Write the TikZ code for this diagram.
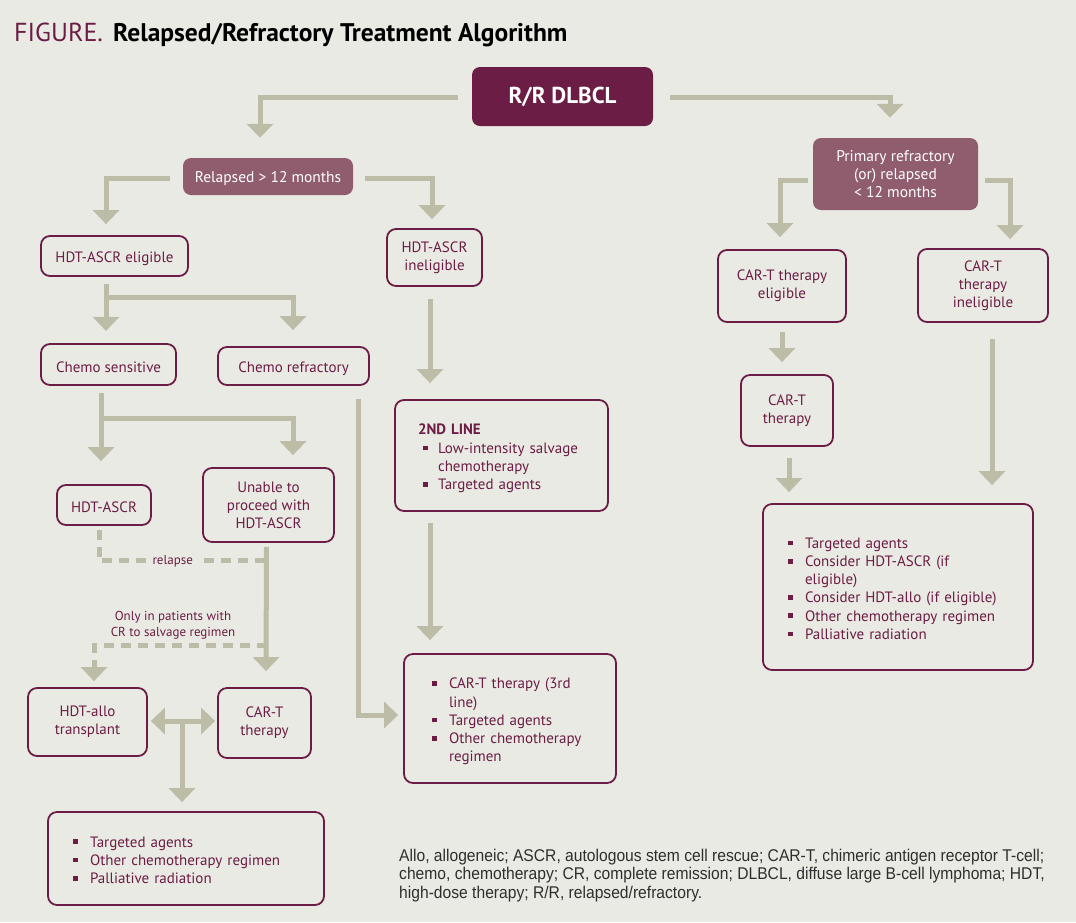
\documentclass[tikz,border=0pt]{standalone}
\usepackage{fontspec}
\setmainfont{PT Sans}
\newfontfamily\footfont[FakeStretch=0.92]{Liberation Sans}
\newfontfamily\titlefont{PT Sans}
\usetikzlibrary{arrows.meta,calc}
\definecolor{bg}{HTML}{EAEAE4}
\definecolor{maroon}{HTML}{6B1D45}
\definecolor{mauve}{HTML}{8F5D6D}
\definecolor{arrowc}{HTML}{BDBCA6}
\definecolor{foot}{HTML}{2E2E2E}
\newcommand\bul{\raisebox{2.8pt}{\rule{4.8pt}{4.8pt}}}
\newcommand\tp{\rule{0pt}{16pt}}
\newcommand\blist[1]{\begin{tabular}{@{}p{17pt}@{}l@{}}\rule{0pt}{19pt}#1\end{tabular}}
\tikzset{
  box/.style={draw=maroon, line width=1.8pt, rounded corners=9pt, text=maroon,
    align=center, font=\fontsize{15}{18}\selectfont, inner sep=0pt,
    execute at begin node=\tp},
  listbox/.style={draw=maroon, line width=1.8pt, rounded corners=9pt, text=maroon,
    align=left, font=\fontsize{15}{18.2}\selectfont, inner ysep=0pt},
  filled/.style={fill=mauve, text=white, rounded corners=8pt, align=center,
    font=\fontsize{15.5}{18}\selectfont, inner sep=0pt, execute at begin node=\tp},
  arr/.style={draw=arrowc, line width=5pt, -{Triangle[width=26pt,length=14pt]}},
  dasharr/.style={arr, dash pattern=on 10pt off 7pt},
  dashln/.style={draw=arrowc, line width=5pt, dash pattern=on 10pt off 7pt},
  lbl/.style={text=maroon, font=\fontsize{13}{16}\selectfont, align=center, inner sep=1pt}
}
\begin{document}
\begin{tikzpicture}[x=1pt,y=-1pt]
\useasboundingbox (0,0) rectangle (1076,922);
\fill[bg] (0,0) rectangle (1076,922);

% title
\node[anchor=base west, inner sep=0pt, text=maroon, font=\titlefont\fontsize{26}{28}\selectfont] (fig) at (14,41) {FIGURE.};
\node[anchor=base west, inner sep=0pt, text=black, font=\titlefont\bfseries\fontsize{25.5}{28}\selectfont] (ttl) at (113,41) {Relapsed/Refractory Treatment Algorithm};

% top level
\node[fill=maroon, text=white, rounded corners=8pt, minimum width=181pt, minimum height=59pt, inner sep=0pt,
  font=\bfseries\fontsize{23}{26}\selectfont] (rr) at (562.5,96.5) {R/R DLBCL};
\node[filled, minimum width=170pt, minimum height=37pt] (rel) at (268,176.5) {Relapsed > 12 months};
\node[filled, minimum width=165pt, minimum height=72pt] (prim) at (895.5,174) {Primary refractory\\(or) relapsed\\< 12 months};

% left branch
\node[box, minimum width=147pt, minimum height=40pt] (elig) at (114.5,256) {HDT-ASCR eligible};
\node[box, minimum width=95pt, minimum height=57pt] (inel) at (434.5,257.5) {HDT-ASCR\\ineligible};
\node[box, minimum width=135pt, minimum height=41pt] (sens) at (108.5,364.5) {Chemo sensitive};
\node[box, minimum width=151pt, minimum height=38pt] (refr) at (293.5,366) {Chemo refractory};
\node[box, minimum width=94pt, minimum height=40pt] (hdt) at (104,505) {HDT-ASCR};
\node[box, minimum width=131pt, minimum height=74pt] (unable) at (268.5,505) {Unable to\\proceed with\\HDT-ASCR};
\node[box, minimum width=119pt, minimum height=68pt] (allo) at (87.5,722) {HDT-allo\\transplant};
\node[box, minimum width=93pt, minimum height=70pt] (cartl) at (264.5,723) {CAR-T\\therapy};
\node[listbox, text width=226pt, inner xsep=25pt, minimum height=93pt] (low) at (186,858.5)
  {\blist{\bul & Targeted agents\\ \bul & Other chemotherapy regimen\\ \bul & Palliative radiation}};

% middle column
\node[listbox, text width=167pt, inner xsep=23pt, minimum height=111pt] (second) at (501.5,455.5)
  {\begin{tabular}{@{}p{20pt}@{}l@{}}\multicolumn{2}{@{}l@{}}{\rule{0pt}{19pt}\bfseries 2ND LINE}\\
   \hspace*{5pt}\bul & Low-intensity salvage\\ & chemotherapy\\ \hspace*{5pt}\bul & Targeted agents\end{tabular}};
\node[listbox, text width=156pt, inner xsep=28pt, minimum height=129pt] (third) at (510,718.5)
  {\blist{\bul & CAR-T therapy (3rd\\ & line)\\ \bul & Targeted agents\\ \bul & Other chemotherapy\\ & regimen}};

% right branch
\node[box, minimum width=128pt, minimum height=72pt] (careli) at (782,286) {CAR-T therapy\\eligible};
\node[box, minimum width=130pt, minimum height=73pt] (carinel) at (983,285.5) {CAR-T\\therapy\\ineligible};
\node[box, minimum width=92pt, minimum height=71pt] (cartr) at (787,410.5) {CAR-T\\therapy};
\node[listbox, text width=220pt, inner xsep=25pt, minimum height=166pt] (rlist) at (898,587)
  {\blist{\bul & Targeted agents\\ \bul & Consider HDT-ASCR (if\\ & eligible)\\ \bul & Consider HDT-allo (if eligible)\\ \bul & Other chemotherapy regimen\\ \bul & Palliative radiation}};

% connectors
\draw[arr] ($(rr.west)+(-14,0.5)$) -| ($(rel.north)+(-8,-20)$);
\draw[arr] ($(rr.east)+(17,0.5)$) -| ($(prim.north)+(-5.5,-20)$);
\draw[arr] ($(rel.west)+(-13,1.5)$) -| ($(elig.north)+(-8.5,-11)$);
\draw[arr] ($(rel.east)+(12,1.5)$) -| ($(inel.north)+(-2.5,-9)$);
\draw[arr] ($(prim.west)+(-5,6)$) -| ($(careli.north)+(-2,-12)$);
\draw[arr] ($(prim.east)+(7,6)$) -| ($(carinel.north)+(27,-9)$);

\draw[arr] ($(elig.south)+(-8.5,7)$) -- ($(elig.south)+(-8.5,54)$);
\coordinate (b1) at ($(elig.south)+(-8.5,21)$);
\draw[arr] (b1) -| ($(refr.north)+(-0.5,-16)$);
\draw[arr] ($(sens.south)+(-7.5,7)$) -- ($(hdt.north)+(-3,-23)$);
\coordinate (b2) at ($(sens.south)+(-7.5,33)$);
\draw[arr] (b2) -| ($(unable.north)+(24.5,-12)$);

\draw[dashln] ($(hdt.south)+(-5,4)$) |- ($(unable.south)+(-2,18)$)
  node[pos=0.72, fill=bg, lbl, inner xsep=6pt] (rlbl) {relapse};
\draw[arr] ($(unable.south)+(-2,4)$) -- ($(cartl.north)+(1.5,-16)$);
\coordinate (j2) at ($(unable.south)+(-2,103)$);
\draw[dasharr] (j2) -| ($(allo.north)+(6.5,-6)$);
\node[lbl] (onlylbl) at (173,625) {Only in patients with\\CR to salvage regimen};

\draw[draw=arrowc, line width=5pt, {Triangle[width=26pt,length=14pt]}-{Triangle[width=26pt,length=14pt]}]
  ($(allo.east)+(3,-1)$) -- ($(cartl.west)+(-2,-2)$);
\coordinate (j3) at (182,721);
\draw[arr] (j3) -- ($(j3 |- low.north)+(0,-9)$);

\draw[arr] ($(refr.south east)+(-11,13)$) |- ($(third.west)+(-5,-3.5)$);
\draw[arr] ($(inel.south)+(-4.5,12)$) -- ($(second.north)+(-71.5,-16)$);
\draw[arr] ($(second.south)+(-71.5,11)$) -- ($(third.north)+(-80,-13)$);

\draw[arr] ($(careli.south)+(0,9)$) -- ($(cartr.north)+(-5,-12)$);
\draw[arr] ($(cartr.south)+(2,11)$) -- ($(rlist.north)+(-109,-11)$);
\draw[arr] ($(carinel.south)+(9,16)$) -- ($(rlist.north)+(94,-18)$);

% footnote
\node[anchor=north west, align=left, text=foot, inner sep=0pt,
  font=\footfont\fontsize{17}{18.4}\selectfont] (fn) at (399,849)
  {Allo, allogeneic; ASCR, autologous stem cell rescue; CAR-T, chimeric antigen receptor T-cell;\\
   chemo, chemotherapy; CR, complete remission; DLBCL, diffuse large B-cell lymphoma; HDT,\\
   high-dose therapy; R/R, relapsed/refractory.};
\end{tikzpicture}
\end{document}
